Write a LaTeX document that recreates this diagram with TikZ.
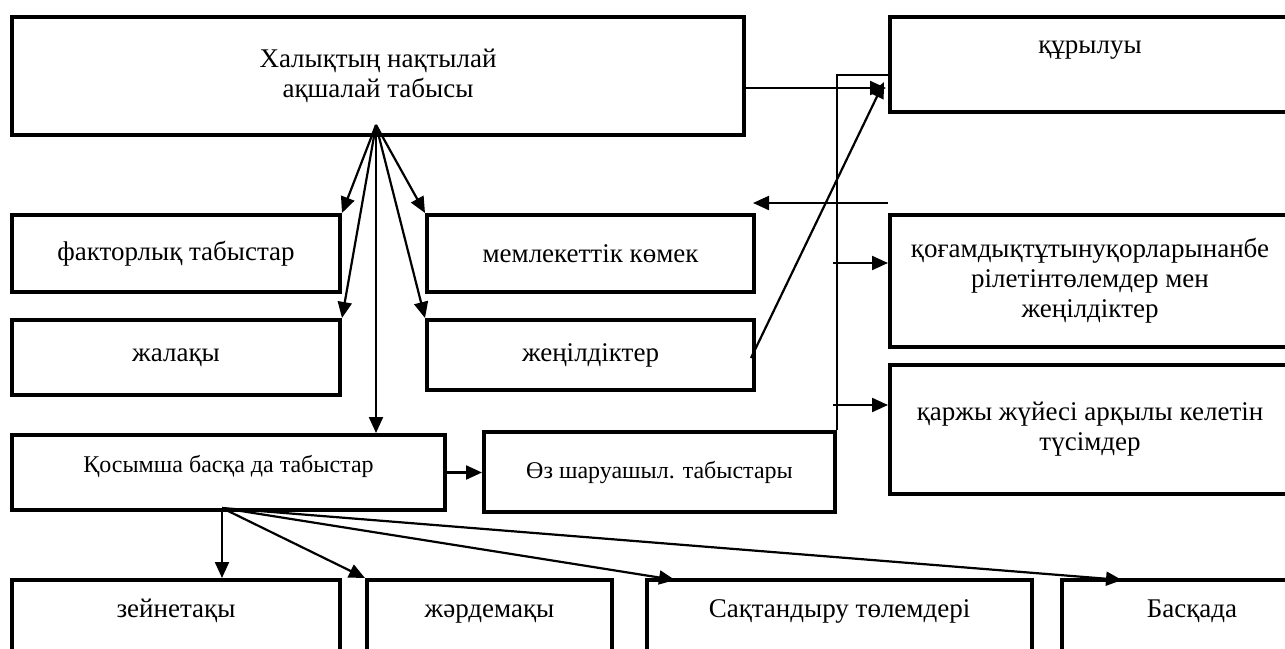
\documentclass[tikz,border=0pt]{standalone}
\usepackage{fontspec}
\setmainfont{Liberation Serif}
\usetikzlibrary{arrows.meta}

\begin{document}
\begin{tikzpicture}[x=1pt, y=-1pt,
    box/.style={draw, line width=4pt, anchor=north west, inner sep=0pt,
      align=center, font=\fontsize{27}{30}\selectfont},
    arr/.style={line width=2.2pt, -{Triangle[length=16pt,width=14pt]}}]
  \useasboundingbox (0,0) rectangle (1285,648);
  \clip (0,0) rectangle (1285,648);

  % 方框
  \node[box, minimum width=732pt, minimum height=118pt] (main) at (10,15)
    {Халықтың нақтылай\\ақшалай табысы};
  \node[box, minimum width=400pt, minimum height=95pt,
    text height=18pt, text depth=41pt] (kurylu) at (888,15) {құрылуы};
  \node[box, minimum width=400pt, minimum height=132pt] (social) at (888,213)
    {қоғамдықтұтынуқорларынанбе\\рілетінтөлемдер мен\\жеңілдіктер};
  \node[box, minimum width=400pt, minimum height=129pt] (finance) at (888,363)
    {қаржы жүйесі арқылы келетін\\түсімдер};
  \node[box, minimum width=328pt, minimum height=77pt] (factor) at (10,213)
    {факторлық табыстар};
  \node[box, minimum width=327pt, minimum height=77pt] (state) at (425,213)
    {мемлекеттік көмек};
  \node[box, minimum width=328pt, minimum height=75pt] (wage) at (10,318)
    {жалақы};
  \node[box, minimum width=327pt, minimum height=70pt] (benefit) at (425,318)
    {жеңілдіктер};
  \node[box, minimum width=433pt, minimum height=75pt,
    text height=18pt, text depth=18pt] (other) at (10,433)
    {\fontsize{24}{28}\selectfont Қосымша басқа да табыстар};
  \node[box, minimum width=351pt, minimum height=80pt] (own) at (482,430)
    {\fontsize{24}{28}\selectfont Өз шаруашыл. табыстары};
  \node[box, minimum width=328pt, minimum height=90pt,
    text height=18pt, text depth=34pt] (pension) at (10,578) {зейнетақы};
  \node[box, minimum width=245pt, minimum height=90pt,
    text height=18pt, text depth=34pt] (aid) at (365,578) {жәрдемақы};
  \node[box, minimum width=385pt, minimum height=90pt,
    text height=18pt, text depth=34pt] (insur) at (645,578) {Сақтандыру төлемдері};
  \node[box, minimum width=260pt, minimum height=90pt,
    text height=18pt, text depth=34pt] (etc) at (1060,578) {Басқада};

  % 连接点
  \coordinate (hub) at (376,125);
  \coordinate (mainout) at (742,88);
  \coordinate (kurin) at (886,88);
  \coordinate (diagin) at (884,82);
  \coordinate (benout) at (751,358);
  \coordinate (busTop) at (888,75);
  \coordinate (busA) at (833,263);
  \coordinate (busB) at (833,405);
  \coordinate (backR) at (888,203);
  \coordinate (backL) at (753,203);
  \coordinate (subout) at (222,508);
  \coordinate (insurin) at (675,580);
  \coordinate (etcin) at (1122,580);

  % 箭头
  \draw[arr] (hub) -- (factor.north east);
  \draw[arr] (hub) -- (wage.north east);
  \draw[arr] (hub) -- (hub |- other.north);
  \draw[arr] (hub) -- (state.north west);
  \draw[arr] (hub) -- (benefit.north west);
  \draw[arr] (mainout) -- (kurin);
  \draw[arr] (benout) -- (diagin);
  \draw[line width=1.5pt] (busTop) -| (own.north east);
  \draw[arr] (busA) -- (busA -| social.west);
  \draw[arr] (busB) -- (busB -| finance.west);
  \draw[arr] (backR) -- (backL);
  \draw[arr] (other.east) -- (other.east -| own.west);
  \draw[arr] (subout) -- (subout |- pension.north);
  \draw[arr] (subout) -- (aid.north west);
  \draw[arr] (subout) -- (insurin);
  \draw[arr] (subout) -- (etcin);
\end{tikzpicture}
\end{document}
